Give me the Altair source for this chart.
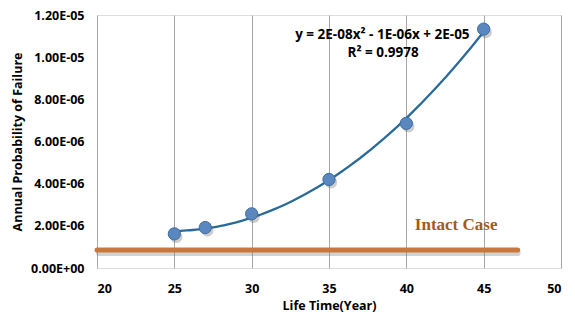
import altair as alt
import pandas as pd

years = [25, 27, 30, 35, 40, 45]
pof = [1.62e-6, 1.92e-6, 2.57e-6, 4.2e-6, 6.86e-6, 1.133e-5]
intact_x = [20, 47.2]
intact_y = [0.85e-6, 0.85e-6]
y_ticks = [0, 2e-6, 4e-6, 6e-6, 8e-6, 1e-5, 1.2e-5]
x_ticks = [20, 25, 30, 35, 40, 45, 50]
eq_lines = ["y = 2E-08x\u00b2 - 1E-06x + 2E-05", "R\u00b2 = 0.9978"]
eq_x = [38.45, 38.5]
eq_y = [1.105e-5, 1.019e-5]
label_text = ["Intact Case"]
label_x = [40.55]
label_y = [2.03e-6]

df = pd.DataFrame({"year": years, "pof": pof})
df_int = pd.DataFrame({"year": intact_x[:1], "year2": intact_x[1:], "pof": intact_y[:1]})
df_eq = pd.DataFrame({"year": eq_x, "pof": eq_y, "t": eq_lines})
df_lab = pd.DataFrame({"year": label_x, "pof": label_y, "t": label_text})

FONT = "Open Sans"
FS = 12.5
xs = alt.Scale(domain=[20, 50], nice=False, zero=False)
ys = alt.Scale(domain=[0, 1.2e-5], nice=False)

label_expr = ("datum.value == 0 ? '0.00E+00' : "
              "format(datum.value / pow(10, floor(log(datum.value)/LN10 + 1e-9)), '.2f') + 'E-0' + "
              "(-floor(log(datum.value)/LN10 + 1e-9))")

xenc = alt.X("year:Q", scale=xs, axis=alt.Axis(
    values=x_ticks, grid=True, gridColor="#A6A6A6", gridWidth=1, domain=False, ticks=False,
    labelFont=FONT, labelFontWeight="bold", labelFontSize=FS, labelColor="#000",
    labelPadding=14, title="Life Time(Year)", titleFont=FONT, titleFontWeight="bold",
    titleFontSize=FS, titleColor="#000", titlePadding=5))
yenc = alt.Y("pof:Q", scale=ys, axis=alt.Axis(
    values=y_ticks, grid=False, domain=False, ticks=False, labelExpr=label_expr,
    labelFont=FONT, labelFontWeight="bold", labelFontSize=FS, labelColor="#000",
    labelPadding=13, title="Annual Probability of Failure", titleFont=FONT,
    titleFontWeight="bold", titleFontSize=FS, titleColor="#000", titleX=-80,
    titleBaseline="middle"))

base = alt.Chart(df)

grid = base.mark_point(opacity=0).encode(x=xenc, y=yenc)

int_shadow = alt.Chart(df_int).mark_rule(color="#7f7f7f", opacity=0.35, strokeWidth=6,
                                          strokeCap="round", yOffset=3, xOffset=2).encode(
    x=alt.X("year:Q", scale=xs), x2="year2", y=alt.Y("pof:Q", scale=ys))
int_line = alt.Chart(df_int).mark_rule(color="#C8783C", strokeWidth=5, strokeCap="round").encode(
    x=alt.X("year:Q", scale=xs), x2="year2", y=alt.Y("pof:Q", scale=ys))

trend = base.transform_regression("year", "pof", method="poly", order=2, extent=[25, 45]).mark_line(
    color="#2A6A98", strokeWidth=2.3).encode(x=alt.X("year:Q", scale=xs), y=alt.Y("pof:Q", scale=ys))

pt_shadow = base.mark_circle(size=150, color="#555", opacity=0.3, xOffset=2, yOffset=3).encode(
    x=alt.X("year:Q", scale=xs), y=alt.Y("pof:Q", scale=ys))
pts = base.mark_point(filled=True, size=150, fill="#5A87C0", stroke="#3F6E9E", strokeWidth=1,
                      opacity=1, shape="circle").encode(
    x=alt.X("year:Q", scale=xs), y=alt.Y("pof:Q", scale=ys))

eq = alt.Chart(df_eq).mark_text(font=FONT, fontWeight="bold", fontSize=13.5, color="#000",
                                align="center", baseline="middle").encode(
    x=alt.X("year:Q", scale=xs), y=alt.Y("pof:Q", scale=ys), text="t:N")

lab = alt.Chart(df_lab).mark_text(font="Liberation Serif", fontWeight="bold", fontSize=17,
                                  color="#A05A22", align="left", baseline="middle").encode(
    x=alt.X("year:Q", scale=xs), y=alt.Y("pof:Q", scale=ys), text="t:N")

chart = alt.layer(grid, int_shadow, int_line, trend, pt_shadow, pts, eq, lab).properties(
    width=464, height=253,
    autosize=alt.AutoSizeParams(type="none"),
    padding={"left": 97, "top": 15, "right": 14, "bottom": 52},
).configure_view(stroke=None).configure(background="white")

chart.save("out.html", embed_options={"renderer": "svg", "actions": False})
